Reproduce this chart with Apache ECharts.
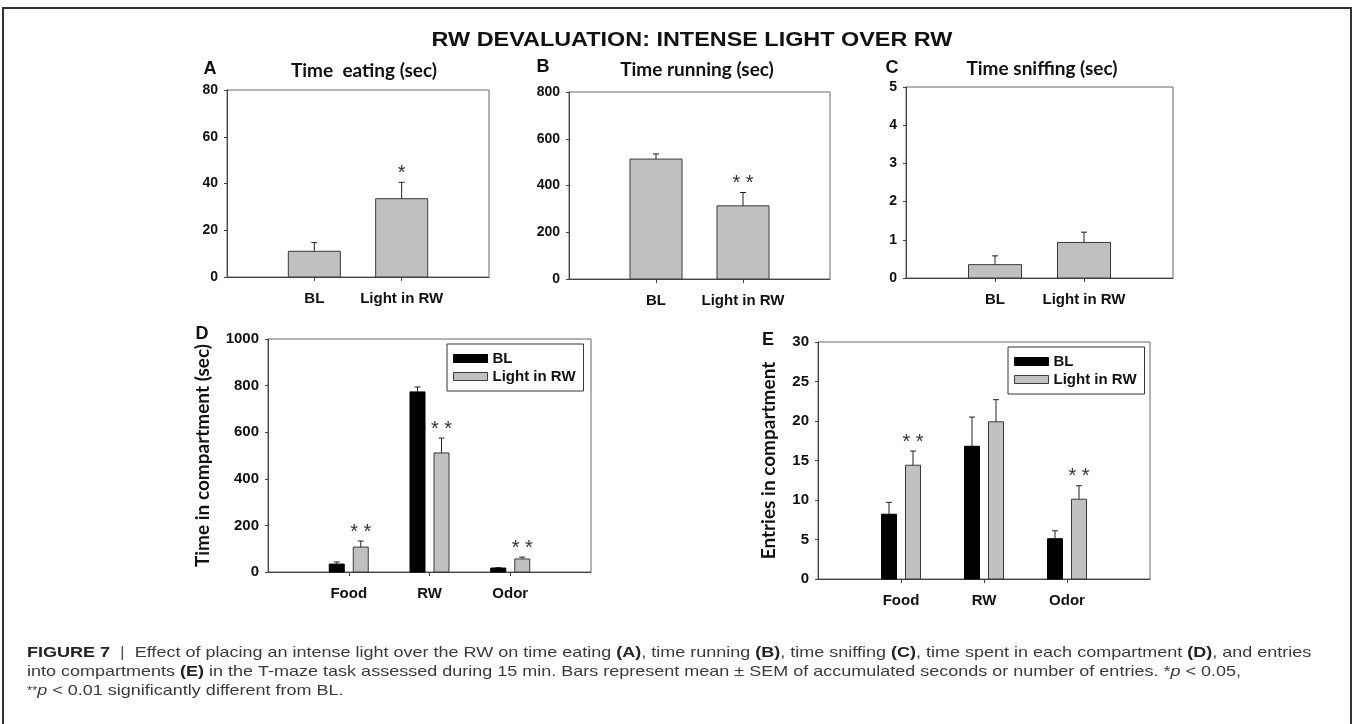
<!DOCTYPE html>
<html>
<head>
<meta charset="utf-8">
<script src="https://cdn.jsdelivr.net/npm/echarts@6/dist/echarts.min.js"></script>
<style>
  html, body { margin: 0; padding: 0; background: #fff; }
  #chart { width: 1354px; height: 724px; }
</style>
</head>
<body>
<div id="chart"></div>
<script>
// ---------- DATA ----------
const groupCategories = ['BL', 'Light in RW'];
const compartmentCategories = ['Food', 'RW', 'Odor'];
const seriesNames = ['BL', 'Light in RW'];

// Panel A: time eating (sec)
const eatingMean = [11, 33.5];
const eatingSEM = [3.7, 7.0];
const eatingStars = ['', '*'];
const eatingTicks = [0, 20, 40, 60, 80];

// Panel B: time running (sec)
const runningMean = [513, 313];
const runningSEM = [22, 57];
const runningStars = ['', '**'];
const runningTicks = [0, 200, 400, 600, 800];

// Panel C: time sniffing (sec)
const sniffingMean = [0.35, 0.93];
const sniffingSEM = [0.23, 0.27];
const sniffingStars = ['', ''];
const sniffingTicks = [0, 1, 2, 3, 4, 5];

// Panel D: time in compartment (sec)
const timeBL = [34, 773, 17];
const timeBLSEM = [9, 21, 2];
const timeLight = [107, 511, 56];
const timeLightSEM = [26, 64, 8];
const timeLightStars = ['**', '**', '**'];
const timeTicks = [0, 200, 400, 600, 800, 1000];

// Panel E: entries in compartment
const entriesBL = [8.2, 16.8, 5.1];
const entriesBLSEM = [1.5, 3.7, 1.0];
const entriesLight = [14.4, 19.9, 10.1];
const entriesLightSEM = [1.8, 2.8, 1.7];
const entriesLightStars = ['**', '', '**'];
const entriesTicks = [0, 5, 10, 15, 20, 25, 30];

// ---------- HELPERS ----------
const FONT = '"Liberation Sans", Arial, sans-serif';
const TITLE_FONT = 'Lato, "Open Sans", sans-serif';
const GRAY = '#c0c0c0';
const OUTLINE = '#3a3a3a';

function toPoints(means, sems) {
  return means.map((m, i) => [i + 1, m, sems[i]]);
}

function barRenderer(offset, width, fill, stroke, stars) {
  return function (params, api) {
    const x = api.value(0), v = api.value(1), e = api.value(2);
    const base = api.coord([x, 0]);
    const top = api.coord([x, v]);
    const errTop = api.coord([x, v + e]);
    const cx = base[0] + offset;
    const children = [{
      type: 'rect',
      shape: { x: cx - width / 2, y: top[1], width: width, height: base[1] - top[1] },
      style: { fill: fill, stroke: stroke, lineWidth: 1 }
    }];
    if (e > 0) {
      children.push({ type: 'line', shape: { x1: cx, y1: top[1], x2: cx, y2: errTop[1] }, style: { stroke: '#222', lineWidth: 1 } });
      children.push({ type: 'line', shape: { x1: cx - 3, y1: errTop[1], x2: cx + 3, y2: errTop[1] }, style: { stroke: '#222', lineWidth: 1 } });
    }
    const s = stars ? stars[params.dataIndex] : '';
    if (s) {
      children.push({
        type: 'text',
        style: { text: s.split('').join(' '), x: cx, y: errTop[1] - 9, align: 'center', verticalAlign: 'middle', font: '20px ' + FONT, fill: '#333' }
      });
    }
    return { type: 'group', children: children };
  };
}

function xAxisFor(gridIndex, cats) {
  const vals = cats.map((c, i) => i + 1);
  return {
    type: 'value', gridIndex: gridIndex, min: 0, max: cats.length + 1,
    splitLine: { show: false },
    axisLine: { show: true, lineStyle: { color: '#444', width: 1 } },
    axisTick: { show: true, customValues: vals, length: 4, lineStyle: { color: '#444' } },
    axisLabel: {
      customValues: vals, formatter: v => cats[Math.round(v) - 1] || '',
      fontFamily: FONT, fontWeight: 'bold', fontSize: 15, color: '#111', margin: 14
    }
  };
}

function yAxisFor(gridIndex, ticks, fontSize, name, nameGap) {
  const interval = ticks[1] - ticks[0];
  const ax = {
    type: 'value', gridIndex: gridIndex, min: ticks[0], max: ticks[ticks.length - 1], interval: interval,
    splitLine: { show: false },
    axisLine: { show: true, lineStyle: { color: '#444', width: 1 } },
    axisTick: { show: true, length: 3, lineStyle: { color: '#444' } },
    axisLabel: { fontFamily: FONT, fontWeight: 'bold', fontSize: fontSize, color: '#111', margin: 9, formatter: v => String(v) }
  };
  if (name) {
    ax.name = name;
    ax.nameLocation = 'middle';
    ax.nameRotate = 90;
    ax.nameGap = nameGap;
    ax.nameTextStyle = { fontFamily: TITLE_FONT, fontWeight: 'bold', fontSize: 19, color: '#111' };
  }
  return ax;
}

function gridBox(left, top, width, height) {
  return { left: left, top: top, width: width, height: height, show: true, borderColor: '#666', borderWidth: 1, backgroundColor: 'transparent' };
}

function label(text, x, y, font, opts) {
  const o = opts || {};
  return {
    type: 'text', x: x, y: y, scaleX: o.scaleX || 1, silent: true,
    style: Object.assign({ text: text, x: 0, y: 0, align: o.align || 'center', verticalAlign: 'middle', font: font, fill: o.fill || '#111' }, o.rich ? { rich: o.rich } : {})
  };
}

const captionRich = {
  b: { fontWeight: 'bold', fontSize: 15, fontFamily: FONT, fill: '#222' },
  bar: { fontSize: 15, fontFamily: FONT, fill: '#555' },
  i: { fontStyle: 'italic', fontSize: 15, fontFamily: FONT, fill: '#3a3a3a' },
  s: { fontSize: 11, fontFamily: FONT, fill: '#3a3a3a' }
};
const captionLines = [
  '{b|FIGURE 7}  {bar||}  Effect of placing an intense light over the RW on time eating {b|(A)}, time running {b|(B)}, time sniffing {b|(C)}, time spent in each compartment {b|(D)}, and entries',
  'into compartments {b|(E)} in the T-maze task assessed during 15 min. Bars represent mean \u00b1 SEM of accumulated seconds or number of entries. *{i|p} < 0.05,',
  '{s|**}{i|p} < 0.01 significantly different from BL.'
];

// ---------- OPTION ----------
const option = {
  animation: false,
  backgroundColor: '#fff',
  grid: [
    gridBox(227, 90, 262, 187),
    gridBox(569, 92, 261, 187),
    gridBox(906, 87, 267, 191),
    gridBox(268, 339, 323, 233),
    gridBox(818, 342, 332, 237)
  ],
  xAxis: [
    xAxisFor(0, groupCategories),
    xAxisFor(1, groupCategories),
    xAxisFor(2, groupCategories),
    xAxisFor(3, compartmentCategories),
    xAxisFor(4, compartmentCategories)
  ],
  yAxis: [
    yAxisFor(0, eatingTicks, 14),
    yAxisFor(1, runningTicks, 14),
    yAxisFor(2, sniffingTicks, 14),
    yAxisFor(3, timeTicks, 15, 'Time in compartment (sec)', 56),
    yAxisFor(4, entriesTicks, 15, 'Entries in compartment', 40)
  ],
  legend: [
    {
      orient: 'vertical', left: 447, top: 344, padding: [7, 8, 7, 6], itemGap: 3,
      itemWidth: 34, itemHeight: 8, borderColor: '#333', borderWidth: 1,
      textStyle: { fontFamily: FONT, fontWeight: 'bold', fontSize: 15, lineHeight: 15, color: '#111' },
      selectedMode: false,
      data: [
        { name: seriesNames[0], icon: 'rect', itemStyle: { color: '#000', borderColor: '#000', borderWidth: 1 } },
        { name: seriesNames[1], icon: 'rect', itemStyle: { color: GRAY, borderColor: OUTLINE, borderWidth: 1 } }
      ]
    },
    {
      orient: 'vertical', left: 1008, top: 347, padding: [7, 8, 7, 6], itemGap: 3,
      itemWidth: 34, itemHeight: 8, borderColor: '#333', borderWidth: 1,
      textStyle: { fontFamily: FONT, fontWeight: 'bold', fontSize: 15, lineHeight: 15, color: '#111' },
      selectedMode: false,
      data: [
        { name: seriesNames[0], icon: 'rect', itemStyle: { color: '#000', borderColor: '#000', borderWidth: 1 } },
        { name: seriesNames[1], icon: 'rect', itemStyle: { color: GRAY, borderColor: OUTLINE, borderWidth: 1 } }
      ]
    }
  ],
  series: [
    { type: 'custom', name: 'Time eating', xAxisIndex: 0, yAxisIndex: 0, encode: { x: 0, y: 1 },
      data: toPoints(eatingMean, eatingSEM), renderItem: barRenderer(0, 52, GRAY, OUTLINE, eatingStars) },
    { type: 'custom', name: 'Time running', xAxisIndex: 1, yAxisIndex: 1, encode: { x: 0, y: 1 },
      data: toPoints(runningMean, runningSEM), renderItem: barRenderer(0, 52, GRAY, OUTLINE, runningStars) },
    { type: 'custom', name: 'Time sniffing', xAxisIndex: 2, yAxisIndex: 2, encode: { x: 0, y: 1 },
      data: toPoints(sniffingMean, sniffingSEM), renderItem: barRenderer(0, 53, GRAY, OUTLINE, sniffingStars) },
    { type: 'custom', name: seriesNames[0], xAxisIndex: 3, yAxisIndex: 3, encode: { x: 0, y: 1 },
      itemStyle: { color: '#000' },
      data: toPoints(timeBL, timeBLSEM), renderItem: barRenderer(-12, 15, '#000', '#000', null) },
    { type: 'custom', name: seriesNames[1], xAxisIndex: 3, yAxisIndex: 3, encode: { x: 0, y: 1 },
      itemStyle: { color: GRAY },
      data: toPoints(timeLight, timeLightSEM), renderItem: barRenderer(12, 15, GRAY, OUTLINE, timeLightStars) },
    { type: 'custom', name: seriesNames[0], xAxisIndex: 4, yAxisIndex: 4, encode: { x: 0, y: 1 },
      itemStyle: { color: '#000' },
      data: toPoints(entriesBL, entriesBLSEM), renderItem: barRenderer(-12, 15, '#000', '#000', null) },
    { type: 'custom', name: seriesNames[1], xAxisIndex: 4, yAxisIndex: 4, encode: { x: 0, y: 1 },
      itemStyle: { color: GRAY },
      data: toPoints(entriesLight, entriesLightSEM), renderItem: barRenderer(12, 15, GRAY, OUTLINE, entriesLightStars) }
  ],
  graphic: [
    { type: 'rect', silent: true, shape: { x: 3, y: 8, width: 1348, height: 740 }, style: { fill: 'none', stroke: '#333', lineWidth: 2 } },
    label('RW DEVALUATION: INTENSE LIGHT OVER RW', 692, 40, 'bold 20px ' + FONT, { scaleX: 1.17 }),
    label('A', 210, 69, 'bold 18px ' + FONT),
    label('B', 543, 67, 'bold 18px ' + FONT),
    label('C', 892, 68, 'bold 18px ' + FONT),
    label('D', 202, 334, 'bold 18px ' + FONT),
    label('E', 768, 340, 'bold 18px ' + FONT),
    label('Time  eating (sec)', 364, 71, 'bold 19px ' + TITLE_FONT),
    label('Time running (sec)', 697, 70, 'bold 19px ' + TITLE_FONT),
    label('Time sniffing (sec)', 1042, 69, 'bold 19px ' + TITLE_FONT),
    label(captionLines[0], 27, 653, '15px ' + FONT, { align: 'left', scaleX: 1.2, fill: '#3a3a3a', rich: captionRich }),
    label(captionLines[1], 27, 672, '15px ' + FONT, { align: 'left', scaleX: 1.2, fill: '#3a3a3a', rich: captionRich }),
    label(captionLines[2], 27, 691, '15px ' + FONT, { align: 'left', scaleX: 1.2, fill: '#3a3a3a', rich: captionRich })
  ]
};

const chart = echarts.init(document.getElementById('chart'), null, { renderer: 'canvas' });
chart.setOption(option);
</script>
</body>
</html>
